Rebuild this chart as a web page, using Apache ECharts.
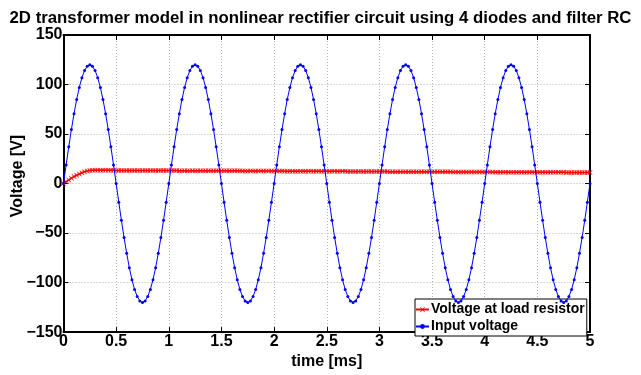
<!DOCTYPE html>
<html>
<head>
<meta charset="utf-8">
<script src="https://cdn.jsdelivr.net/npm/echarts@6/dist/echarts.min.js"></script>
<style>
  html, body { margin: 0; padding: 0; background: #fff; }
  #chart { width: 641px; height: 375px; }
</style>
</head>
<body>
<div id="chart"></div>
<script>
// Sample spacing of the simulation output, in ms
const timeStep = 0.025;

// Input voltage [V], one sample every 0.025 ms (5 periods of 1 ms)
const inputVoltage = [
  0,18.8,37.1,54.5,70.5,84.9,97.1,106.9,114.1,118.5,120,118.5,114.1,106.9,97.1,84.9,70.5,54.5,37.1,18.8,
  0,-18.8,-37.1,-54.5,-70.5,-84.9,-97.1,-106.9,-114.1,-118.5,-120,-118.5,-114.1,-106.9,-97.1,-84.9,-70.5,-54.5,-37.1,-18.8,
  0,18.8,37.1,54.5,70.5,84.9,97.1,106.9,114.1,118.5,120,118.5,114.1,106.9,97.1,84.9,70.5,54.5,37.1,18.8,
  0,-18.8,-37.1,-54.5,-70.5,-84.9,-97.1,-106.9,-114.1,-118.5,-120,-118.5,-114.1,-106.9,-97.1,-84.9,-70.5,-54.5,-37.1,-18.8,
  0,18.8,37.1,54.5,70.5,84.9,97.1,106.9,114.1,118.5,120,118.5,114.1,106.9,97.1,84.9,70.5,54.5,37.1,18.8,
  0,-18.8,-37.1,-54.5,-70.5,-84.9,-97.1,-106.9,-114.1,-118.5,-120,-118.5,-114.1,-106.9,-97.1,-84.9,-70.5,-54.5,-37.1,-18.8,
  0,18.8,37.1,54.5,70.5,84.9,97.1,106.9,114.1,118.5,120,118.5,114.1,106.9,97.1,84.9,70.5,54.5,37.1,18.8,
  0,-18.8,-37.1,-54.5,-70.5,-84.9,-97.1,-106.9,-114.1,-118.5,-120,-118.5,-114.1,-106.9,-97.1,-84.9,-70.5,-54.5,-37.1,-18.8,
  0,18.8,37.1,54.5,70.5,84.9,97.1,106.9,114.1,118.5,120,118.5,114.1,106.9,97.1,84.9,70.5,54.5,37.1,18.8,
  0,-18.8,-37.1,-54.5,-70.5,-84.9,-97.1,-106.9,-114.1,-118.5,-120,-118.5,-114.1,-106.9,-97.1,-84.9,-70.5,-54.5,-37.1,-18.8,
  0
];

// Voltage across the load resistor [V], same sampling
const loadVoltage = [
  0,1.9,3.7,5.4,7.0,8.4,9.7,10.9,11.9,12.7,13.3,
  13.4,13.4,13.4,13.4,13.4,13.4,13.4,13.4,13.4,
  13.3,13.3,13.3,13.3,13.3,13.3,13.3,13.3,
  13.2,13.2,13.2,13.2,13.2,13.2,13.2,13.2,
  13.1,13.1,13.1,13.1,13.1,13.1,13.1,13.1,
  13.0,13.0,13.0,13.0,13.0,13.0,13.0,13.0,
  12.9,12.9,12.9,12.9,12.9,12.9,12.9,12.9,
  12.8,12.8,12.8,12.8,12.8,12.8,12.8,12.8,
  12.7,12.7,12.7,12.7,12.7,12.7,12.7,12.7,
  12.6,12.6,12.6,12.6,12.6,12.6,12.6,12.6,
  12.5,12.5,12.5,12.5,12.5,12.5,12.5,12.5,
  12.4,12.4,12.4,12.4,12.4,12.4,12.4,12.4,
  12.3,12.3,12.3,12.3,12.3,12.3,12.3,12.3,
  12.2,12.2,12.2,12.2,12.2,12.2,12.2,12.2,
  12.1,12.1,12.1,12.1,12.1,12.1,12.1,12.1,
  12.0,12.0,12.0,12.0,12.0,12.0,12.0,12.0,
  11.9,11.9,11.9,11.9,11.9,11.9,11.9,11.9,
  11.8,11.8,11.8,11.8,11.8,11.8,11.8,11.8,
  11.7,11.7,11.7,11.7,11.7,11.7,11.7,11.7,
  11.6,11.6,11.6,11.6,11.6,11.6,11.6,11.6,
  11.5,11.5,11.5,11.5,11.5,11.5,11.5,11.5,11.5,
  11.4,11.4,11.4,11.4,11.4,11.4,11.4,11.4,11.4,
  11.3,11.3,11.3,11.3,11.3,11.3,11.3,11.3,11.3,
  11.2,11.2,11.2,11.2,11.2,11.2,11.2,11.2,11.2,11.2
];

const seriesNames = ['Voltage at load resistor', 'Input voltage'];
const chartTitle = '2D transformer model in nonlinear rectifier circuit using 4 diodes and filter RC';
const xAxisName = 'time [ms]';
const yAxisName = 'Voltage [V]';

const toPairs = arr => arr.map((v, i) => [+(i * timeStep).toFixed(4), v]);

const FONT = 'Liberation Sans';
const minusFmt = v => String(v).replace('-', '\u2212');
const crossSymbol = 'path://M0,1L1,0L5,4L9,0L10,1L6,5L10,9L9,10L5,6L1,10L0,9L4,5Z';

const chart = echarts.init(document.getElementById('chart'), null, { renderer: 'canvas' });

const tickText = { fontFamily: FONT, fontWeight: 'bold', fontSize: 16, color: '#000' };
const gridLine = { show: true, lineStyle: { color: '#b4b4b4', type: [1, 2], width: 1 } };
const frameLine = { onZero: false, lineStyle: { color: '#000', width: 2 } };
const innerTick = { inside: true, length: 5, lineStyle: { color: '#000', width: 1 } };

chart.setOption({
  animation: false,
  backgroundColor: '#fff',
  title: {
    text: chartTitle,
    left: 'center',
    top: 5,
    textStyle: { fontFamily: FONT, fontWeight: 'bold', fontSize: 16.8, color: '#000' }
  },
  grid: { left: 63.5, right: 51, top: 35, bottom: 36, containLabel: false },
  legend: {
    orient: 'vertical',
    left: 415,
    top: 299,
    itemWidth: 13,
    itemHeight: 6,
    itemGap: 0,
    padding: [2, 2, 1, 0],
    backgroundColor: '#fff',
    borderColor: '#000',
    borderWidth: 1,
    borderRadius: 0,
    textStyle: {
      fontFamily: FONT, fontWeight: 'bold', fontSize: 14, lineHeight: 17,
      color: '#000', padding: [0, 0, 0, -3]
    },
    data: seriesNames
  },
  graphic: [{
    type: 'text',
    x: 18,
    y: 176,
    rotation: Math.PI / 2,
    style: {
      text: yAxisName,
      fontFamily: FONT, fontWeight: 'bold', fontSize: 16, fill: '#000',
      align: 'center', verticalAlign: 'middle'
    }
  }],
  xAxis: [{
    type: 'value',
    min: 0, max: 5, interval: 0.5,
    name: xAxisName,
    nameLocation: 'middle',
    nameGap: 12.5,
    nameTextStyle: { fontFamily: FONT, fontWeight: 'bold', fontSize: 16, color: '#000' },
    axisLine: frameLine,
    axisTick: innerTick,
    axisLabel: Object.assign({ margin: 1, formatter: minusFmt }, tickText),
    splitLine: gridLine
  }, {
    type: 'value',
    position: 'top',
    min: 0, max: 5, interval: 0.5,
    axisLine: frameLine,
    axisTick: innerTick,
    axisLabel: { show: false },
    splitLine: { show: false }
  }],
  yAxis: [{
    type: 'value',
    min: -150, max: 150, interval: 50,
    axisLine: frameLine,
    axisTick: innerTick,
    axisLabel: Object.assign({ margin: 1, formatter: minusFmt }, tickText),
    splitLine: gridLine
  }, {
    type: 'value',
    position: 'right',
    min: -150, max: 150, interval: 50,
    axisLine: frameLine,
    axisTick: innerTick,
    axisLabel: { show: false },
    splitLine: { show: false }
  }],
  series: [{
    name: seriesNames[0],
    type: 'line',
    data: toPairs(loadVoltage),
    color: '#ff0000',
    symbol: crossSymbol,
    symbolSize: 5,
    showAllSymbol: true,
    lineStyle: { color: '#ff0000', width: 1.5 },
    itemStyle: { color: '#ff0000' },
    z: 3
  }, {
    name: seriesNames[1],
    type: 'line',
    data: toPairs(inputVoltage),
    color: '#0000ff',
    symbol: 'circle',
    symbolSize: 3,
    showAllSymbol: true,
    lineStyle: { color: '#0000ff', width: 1 },
    itemStyle: { color: '#0000ff' },
    z: 4
  }]
});
</script>
</body>
</html>
